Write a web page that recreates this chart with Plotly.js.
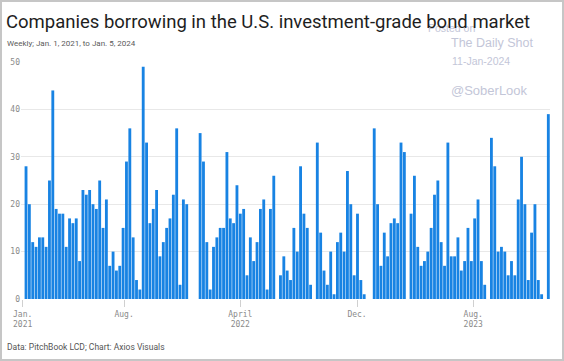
<!DOCTYPE html>
<html>
<head>
<meta charset="utf-8">
<script src="https://cdn.plot.ly/plotly-3.0.1.min.js"></script>
<style>
  html, body { margin: 0; padding: 0; background: #fff; }
  #wrap { position: relative; width: 564px; height: 361px; }
  #chart { width: 564px; height: 361px; }
  #frame { position: absolute; left: 0; top: 0; width: 564px; height: 361px; box-sizing: border-box;
           border: 2px solid #c6c6c6; pointer-events: none; }
</style>
</head>
<body>
<div id="wrap"><div id="chart"></div><div id="frame"></div></div>
<script>
// Weekly count of companies borrowing, week starting Jan 1, 2021 through Jan 5, 2024
const startWeek = '2021-01-01';
const companies = [
  0, 28, 20, 12, 11, 13, 13, 11, 25, 44, 19, 18, 18, 11, 17, 16, 17, 8, 23, 22,
  23, 20, 19, 25, 15, 21, 7, 10, 6, 7, 15, 29, 36, 13, 4, 2, 49, 33, 16, 19,
  23, 9, 12, 15, 17, 22, 36, 3, 21, 20, 0, 0, 0, 35, 29, 12, 2, 11, 13, 15,
  15, 31, 17, 16, 24, 18, 19, 5, 13, 8, 12, 19, 21, 2, 19, 26, 0, 5, 9, 6,
  4, 15, 10, 28, 18, 15, 3, 0, 33, 14, 6, 3, 10, 1, 12, 14, 10, 27, 20, 5,
  18, 4, 1, 0, 0, 36, 20, 7, 14, 9, 16, 17, 16, 33, 31, 0, 18, 26, 11, 7,
  8, 10, 15, 22, 25, 12, 7, 33, 9, 9, 13, 6, 8, 15, 8, 17, 21, 8, 3, 0,
  34, 28, 10, 11, 10, 5, 8, 5, 21, 30, 20, 4, 14, 20, 4, 1, 0, 39
];
const tickDates = ['2021-01-01', '2021-08-01', '2022-04-01', '2022-12-01', '2023-08-01'];
const tickLabels = ['Jan.<br>2021', 'Aug.', 'April<br>2022', 'Dec.', 'Aug.<br>2023'];
const yTicks = [0, 10, 20, 30, 40, 50];

const titleText = 'Companies borrowing in the U.S. investment-grade bond market';
const subtitleText = 'Weekly; Jan. 1, 2021, to Jan. 5, 2024';
const sourceText = 'Data: PitchBook LCD; Chart: Axios Visuals';

// week dates (categories on the time axis)
const weeks = companies.map((_, i) => {
  const d = new Date(startWeek + 'T00:00:00Z');
  d.setUTCDate(d.getUTCDate() + 7 * i);
  return d.toISOString().slice(0, 10);
});

const W = 564, H = 361;
const M = { l: 21, r: 14, t: 62, b: 62 };
const pw = W - M.l - M.r, ph = H - M.t - M.b;
const px = x => (x - M.l) / pw;
const py = y => (H - M.b - y) / ph;

const wm = '#c3c6d8';
const sans = 'Roboto, "Noto Sans", sans-serif';
const wmFont = '"Liberation Sans", Arial, sans-serif';
const mono = '"DejaVu Sans Mono", monospace';

const trace = {
  type: 'bar',
  x: weeks,
  y: companies,
  marker: { color: '#1883e3', line: { width: 0 } },
  hoverinfo: 'x+y'
};

function ann(text, x, y, size, color, family) {
  return { text, x: px(x), y: py(y), xref: 'paper', yref: 'paper', xanchor: 'left',
           yanchor: 'middle', showarrow: false, borderpad: 0, font: { size, color, family } };
}

const layout = {
  width: W, height: H,
  margin: M,
  paper_bgcolor: '#fff', plot_bgcolor: '#fff',
  bargap: 0.15,
  showlegend: false,
  xaxis: {
    type: 'date',
    range: ['2020-12-28 12:00', '2024-01-08 12:00'],
    tickvals: tickDates, ticktext: tickLabels,
    ticks: 'outside', ticklen: 7, tickcolor: '#d0d0d0', tickwidth: 1,
    showgrid: false, zeroline: false, showline: false,
    tickfont: { family: mono, size: 8, color: '#8a8a8a' }
  },
  yaxis: {
    range: [0, 50], tickvals: yTicks, ticktext: yTicks.map(String),
    showgrid: true, gridcolor: '#e8e8e8', gridwidth: 1,
    zeroline: false, showline: false, ticks: '',
    tickfont: { family: mono, size: 8, color: '#8a8a8a' }
  },
  annotations: [
    ann('Posted on', 427, 28, 10.5, wm, wmFont),
    ann('The Daily Shot', 450, 43, 12.5, wm, wmFont),
    ann('11-Jan-2024', 451, 61, 10.5, wm, wmFont),
    ann('@SoberLook', 450, 90, 13, wm, wmFont),
    ann(subtitleText, 6, 43, 8, '#5a5a5a', sans),
    ann(sourceText, 6, 347, 8.5, '#555', sans),
    ann(titleText, 5, 22, 18.5, '#1e1e1e', sans)
  ]
};

Plotly.newPlot('chart', [trace], layout, { displayModeBar: false, staticPlot: true });
</script>
</body>
</html>
